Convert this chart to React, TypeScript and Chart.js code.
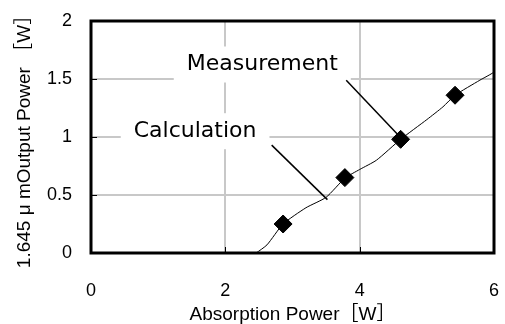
import React, { useEffect, useRef } from "react";
import { Chart, registerables } from "chart.js";

Chart.register(...registerables);

// ---- data ----
const measurementX = [2.86, 3.78, 4.61, 5.42];
const measurementY = [0.25, 0.65, 0.98, 1.36];
const calculationX = [2.46, 2.62, 2.86, 3.2, 3.5, 3.78, 4.0, 4.25, 4.61, 5.0, 5.24, 5.42, 5.79, 6.0, 6.16];
const calculationY = [0.0, 0.07, 0.25, 0.39, 0.48, 0.645, 0.72, 0.8, 0.98, 1.15, 1.26, 1.36, 1.49, 1.56, 1.66];
const xTicks = [0, 2, 4, 6];
const yTicks = [0, 0.5, 1, 1.5, 2];
const xTitle = "Absorption Power［W］";
const yTitle = "1.645 μ mOutput Power ［W］";
const labelNames = ["Measurement", "Calculation"];

// ---- annotation layout (data space) ----
const annotations = [
  { text: labelNames[0], cx: 2.55, cy: 1.625, from: [3.8, 1.49], to: [4.57, 1.02] },
  { text: labelNames[1], cx: 1.55, cy: 1.05, from: [2.69, 0.93], to: [3.52, 0.46] },
];

const TICK_FONT = { family: "'Liberation Sans', 'Noto Sans CJK JP', sans-serif", size: 18 };
const TITLE_FONT = { family: "'Liberation Sans', 'Noto Sans CJK JP', sans-serif", size: 19, lineHeight: 1 };
const NOTE_FONT = "22px 'DejaVu Sans', sans-serif";

const framePlugin = {
  id: "frameAndNotes",
  beforeDatasetsDraw(chart: any) {
    const { ctx, chartArea: a, scales } = chart;
    const xs = scales.x;
    const ys = scales.y;
    ctx.save();
    // white label backgrounds
    ctx.font = NOTE_FONT;
    annotations.forEach((n) => {
      const w = ctx.measureText(n.text).width + 26;
      const px = xs.getPixelForValue(n.cx);
      const py = ys.getPixelForValue(n.cy);
      ctx.fillStyle = "#ffffff";
      ctx.fillRect(px - w / 2, py - 18, w, 36);
    });
    // leader lines
    ctx.strokeStyle = "#000";
    ctx.lineWidth = 1.5;
    annotations.forEach((n) => {
      ctx.beginPath();
      ctx.moveTo(xs.getPixelForValue(n.from[0]), ys.getPixelForValue(n.from[1]));
      ctx.lineTo(xs.getPixelForValue(n.to[0]), ys.getPixelForValue(n.to[1]));
      ctx.stroke();
    });
    // inward tick marks
    ctx.lineWidth = 1;
    xTicks.forEach((v) => {
      const px = Math.round(xs.getPixelForValue(v)) + 0.5;
      ctx.beginPath();
      ctx.moveTo(px, a.bottom);
      ctx.lineTo(px, a.bottom - 6);
      ctx.stroke();
    });
    yTicks.forEach((v) => {
      const py = Math.round(ys.getPixelForValue(v)) + 0.5;
      ctx.beginPath();
      ctx.moveTo(a.left, py);
      ctx.lineTo(a.left + 6, py);
      ctx.stroke();
    });
    // frame
    ctx.lineWidth = 3;
    ctx.strokeRect(a.left, a.top, a.right - a.left, a.bottom - a.top);
    ctx.restore();
  },
  afterDatasetsDraw(chart: any) {
    const { ctx, scales } = chart;
    ctx.save();
    ctx.font = NOTE_FONT;
    ctx.fillStyle = "#000";
    ctx.textAlign = "center";
    ctx.textBaseline = "middle";
    annotations.forEach((n) => {
      ctx.fillText(n.text, scales.x.getPixelForValue(n.cx), scales.y.getPixelForValue(n.cy));
    });
    ctx.restore();
  },
};

export default function App() {
  const ref = useRef<HTMLCanvasElement>(null);
  useEffect(() => {
    if (!ref.current) return;
    const chart = new Chart(ref.current, {
      type: "scatter",
      data: {
        datasets: [
          {
            label: "Measurement",
            data: measurementX.map((x, i) => ({ x, y: measurementY[i] })),
            pointStyle: "rectRot",
            pointRadius: 9,
            pointHoverRadius: 9,
            backgroundColor: "#000",
            borderColor: "#000",
            borderWidth: 1,
            showLine: false,
          },
          {
            label: "Calculation",
            data: calculationX.map((x, i) => ({ x, y: calculationY[i] })),
            showLine: true,
            pointRadius: 0,
            borderColor: "#000",
            borderWidth: 1,
            tension: 0.2,
            clip: false as any,
          },
        ],
      },
      options: {
        animation: false,
        responsive: false,
        devicePixelRatio: 1,
        layout: { padding: { left: 0, top: 21, right: 11, bottom: 0 } },
        plugins: { legend: { display: false }, tooltip: { enabled: false } },
        scales: {
          x: {
            type: "linear",
            min: 0,
            max: 6,
            afterBuildTicks: (s: any) => {
              s.ticks = xTicks.map((v) => ({ value: v }));
            },
            afterFit: (s: any) => {
              s.height = 71;
              s.paddingLeft = 0;
              s.paddingRight = 0;
            },
            ticks: { font: TICK_FONT, color: "#000", padding: 27, callback: (v: any) => String(v) },
            grid: { color: "#c8c8c8", lineWidth: 2, drawTicks: false },
            border: { display: false },
            title: { display: true, text: xTitle, font: TITLE_FONT, color: "#000", padding: { top: 0, bottom: 0 } },
          },
          y: {
            type: "linear",
            min: 0,
            max: 2,
            afterBuildTicks: (s: any) => {
              s.ticks = yTicks.map((v) => ({ value: v }));
            },
            afterFit: (s: any) => {
              s.width = 91;
              s.paddingTop = 0;
              s.paddingBottom = 0;
            },
            ticks: { font: TICK_FONT, color: "#000", padding: 19, callback: (v: any) => String(v) },
            grid: { color: "#c8c8c8", lineWidth: 2, drawTicks: false },
            border: { display: false },
            title: { display: true, text: yTitle, font: TITLE_FONT, color: "#000", padding: { top: 15, bottom: 0 } },
          },
        },
      },
      plugins: [framePlugin],
    });
    return () => chart.destroy();
  }, []);
  return (
    <div style={{ position: "fixed", left: 0, top: 0, width: 505, height: 324, background: "#fff" }}>
      <canvas ref={ref} width={505} height={324} style={{ width: 505, height: 324 }} />
    </div>
  );
}
